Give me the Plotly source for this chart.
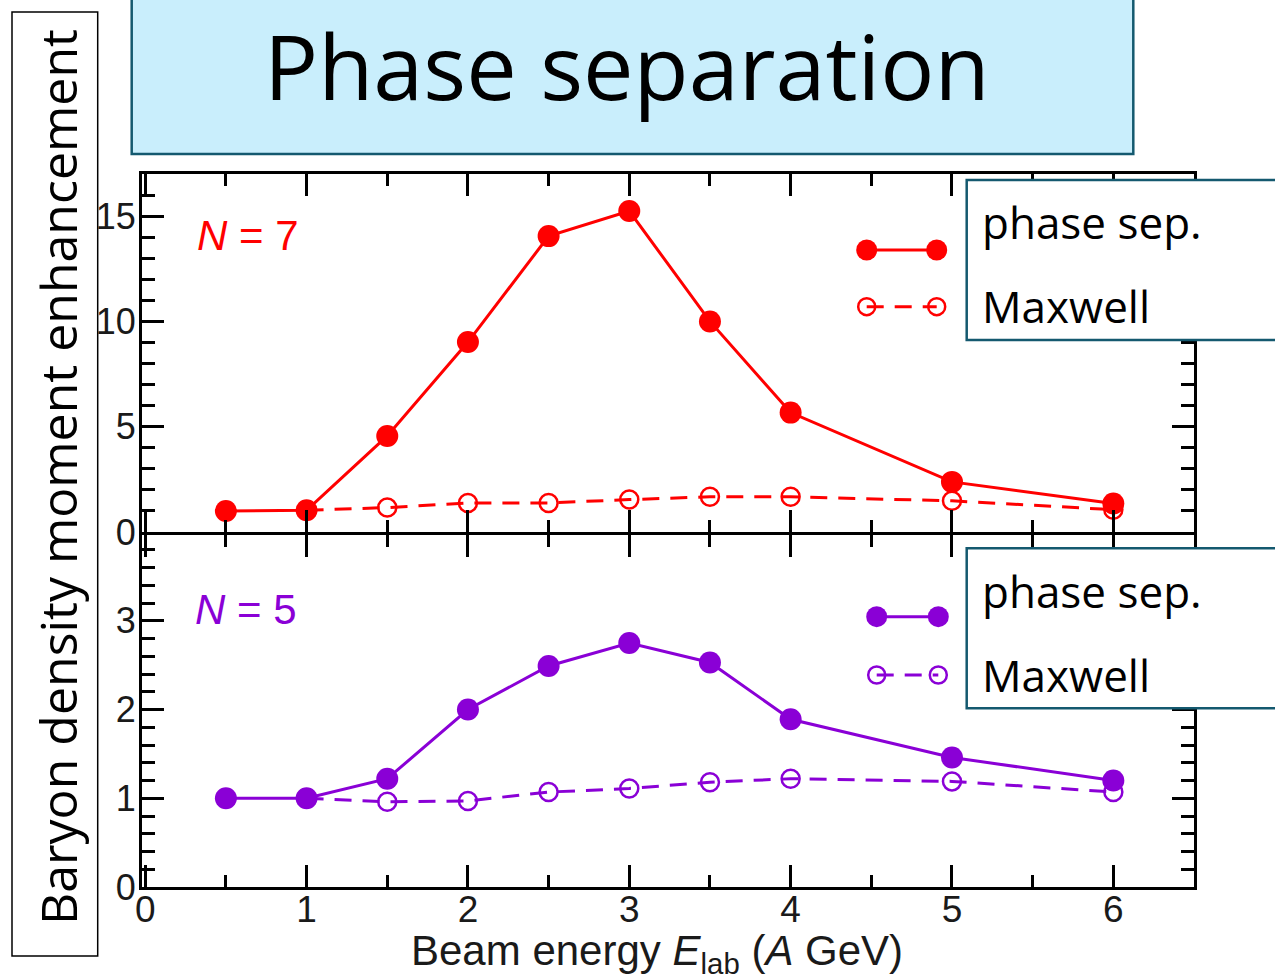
import plotly.graph_objects as go

# ---------------- data ----------------
energy_ps = [0.5, 1, 1.5, 2, 2.5, 3, 3.5, 4, 5, 6]
energy_mx = [1, 1.5, 2, 2.5, 3, 3.5, 4, 5, 6]

n7_phase_sep = [1.0, 1.03, 4.56, 9.02, 14.05, 15.24, 10.0, 5.67, 2.38, 1.35]
n7_maxwell = [1.03, 1.16, 1.38, 1.38, 1.54, 1.67, 1.67, 1.48, 1.06]

n5_phase_sep = [1.0, 1.0, 1.22, 2.0, 2.49, 2.75, 2.53, 1.89, 1.46, 1.2]
n5_maxwell = [1.0, 0.96, 0.97, 1.07, 1.11, 1.18, 1.22, 1.19, 1.07]

x_ticks = [0, 1, 2, 3, 4, 5, 6]
top_y_ticks = [0, 5, 10, 15]
bot_y_ticks = [0, 1, 2, 3]

series_names = ["phase sep.", "Maxwell"]
panel_labels = ["<i>N</i> = 7", "<i>N</i> = 5"]
title_text = "Phase separation"
y_title = "Baryon density moment enhancement"
x_title = "Beam energy <i>E</i><sub>lab</sub> (<i>A</i> GeV)"

# ---------------- style ----------------
W, H = 1275, 980
RED = "#ff0000"
PURPLE = "#8a00d6"
BOX_EDGE = "#14596f"
TITLE_FILL = "#c9eefc"
TICK_FONT = "Liberation Sans, Arial, sans-serif"
TEXT_FONT = "Open Sans, DejaVu Sans, sans-serif"

def px(x):
    return x / W

def py(y):
    return 1 - y / H

# pixel geometry of the two panels
TOP_PX, MID_PX, BOT_PX = 174, 532, 887
LINE_W = 3
BOT_SCALE = (BOT_PX - MID_PX) / 4.0          # px per unit in lower panel
BOT_TOP_PX = MID_PX + LINE_W                   # lower panel starts below the shared spine

X_DOMAIN = [px(142), px(1194)]
TOP_DOMAIN = [py(MID_PX), py(TOP_PX)]
BOT_DOMAIN = [py(BOT_PX), py(BOT_TOP_PX)]
BOT_RANGE_TOP = (BOT_PX - BOT_TOP_PX) / BOT_SCALE

fig = go.Figure()

def add_panel(xa, ya, color, ps, mx):
    fig.add_trace(go.Scatter(
        x=energy_mx, y=mx, xaxis=xa, yaxis=ya, mode="lines+markers",
        line=dict(color=color, width=3, dash="17px,11px"),
        marker=dict(symbol="circle-open", size=18, color=color, line=dict(width=2.5, color=color)),
        showlegend=False, name=series_names[1]))
    fig.add_trace(go.Scatter(
        x=energy_ps, y=ps, xaxis=xa, yaxis=ya, mode="lines+markers",
        line=dict(color=color, width=3),
        marker=dict(symbol="circle", size=22, color=color),
        showlegend=False, name=series_names[0]))

add_panel("x", "y", RED, n7_phase_sep, n7_maxwell)
add_panel("x2", "y2", PURPLE, n5_phase_sep, n5_maxwell)

# legend key glyphs on a pixel-space overlay axis
KEYS = [
    (RED, 866.7, 936.7, 250, 306.7),
    (PURPLE, 876.7, 938.3, 616.7, 675),
]
for color, xa_, xb_, y_ps, y_mx in KEYS:
    fig.add_trace(go.Scatter(
        x=[xa_, xb_], y=[y_ps, y_ps], xaxis="x3", yaxis="y3", mode="lines+markers",
        line=dict(color=color, width=3), marker=dict(symbol="circle", size=21, color=color),
        showlegend=False, hoverinfo="skip"))
    fig.add_trace(go.Scatter(
        x=[xa_, xb_], y=[y_mx, y_mx], xaxis="x3", yaxis="y3", mode="lines+markers",
        line=dict(color=color, width=3, dash="17px,11px"),
        marker=dict(symbol="circle-open", size=17, color=color, line=dict(width=2.5, color=color)),
        showlegend=False, hoverinfo="skip"))

axis_common = dict(showline=True, linewidth=LINE_W, linecolor="black", mirror="ticks",
                   ticks="inside", tickwidth=2.5, tickcolor="black", ticklen=22,
                   showgrid=False, zeroline=False, automargin=False,
                   tickfont=dict(family=TICK_FONT, size=36, color="#1a1a1a"))

fig.update_layout(
    width=W, height=H, margin=dict(l=0, r=0, t=0, b=0, pad=0, autoexpand=False),
    paper_bgcolor="white", plot_bgcolor="rgba(0,0,0,0)",
    xaxis=dict(domain=X_DOMAIN, anchor="y", range=[-0.02, 6.5], tickvals=x_ticks,
               showticklabels=False,
               minor=dict(tickmode="linear", tick0=0, dtick=0.5, ticks="inside", ticklen=12,
                          tickwidth=2.5, tickcolor="black"),
               **axis_common),
    yaxis=dict(domain=TOP_DOMAIN, anchor="x", range=[0, 17], tickvals=top_y_ticks,
               minor=dict(tickmode="linear", tick0=0, dtick=1, ticks="inside", ticklen=13,
                          tickwidth=2.5, tickcolor="black"),
               ticklabelstandoff=-4,
               **axis_common),
    xaxis2=dict(domain=X_DOMAIN, anchor="y2", range=[-0.02, 6.5], tickvals=x_ticks,
                minor=dict(tickmode="linear", tick0=0, dtick=0.5, ticks="inside", ticklen=12,
                           tickwidth=2.5, tickcolor="black"),
                ticklabelstandoff=-12,
                **{**axis_common, "tickfont": dict(family=TICK_FONT, size=37, color="#1a1a1a")}),
    yaxis2=dict(domain=BOT_DOMAIN, anchor="x2", range=[0, BOT_RANGE_TOP], tickvals=bot_y_ticks,
                minor=dict(tickmode="linear", tick0=0, dtick=0.2, ticks="inside", ticklen=13,
                           tickwidth=2.5, tickcolor="black"),
                ticklabelstandoff=-4,
                **axis_common),
    xaxis3=dict(domain=[0, 1], anchor="y3", range=[0, W], visible=False, fixedrange=True,
                automargin=False),
    yaxis3=dict(domain=[0, 1], anchor="x3", range=[H, 0], visible=False, fixedrange=True,
                automargin=False),
)

shapes = [
    # title box
    dict(type="rect", xref="paper", yref="paper", x0=px(131.7), x1=px(1133.3), y0=py(154), y1=py(-5),
         fillcolor=TITLE_FILL, line=dict(color=BOX_EDGE, width=2.5), layer="above"),
    # y-label box
    dict(type="rect", xref="paper", yref="paper", x0=px(12), x1=px(97.7), y0=py(956), y1=py(12),
         fillcolor="white", line=dict(color="black", width=1.5), layer="above"),
    # legend boxes
    dict(type="rect", xref="paper", yref="paper", x0=px(966.7), x1=px(1290), y0=py(340), y1=py(180),
         fillcolor="white", line=dict(color=BOX_EDGE, width=2.5), layer="above"),
    dict(type="rect", xref="paper", yref="paper", x0=px(966.7), x1=px(1290), y0=py(708.3), y1=py(548.3),
         fillcolor="white", line=dict(color=BOX_EDGE, width=2.5), layer="above"),
]
fig.update_layout(shapes=shapes)

ann = []
def add_text(text, x, y, size, family, color="black", xanchor="center", angle=0):
    ann.append(dict(text=text, x=px(x), y=py(y), xref="paper", yref="paper", showarrow=False,
                    xanchor=xanchor, yanchor="middle", textangle=angle,
                    font=dict(family=family, size=size, color=color)))

add_text(title_text, 626.5, 65, 90, TEXT_FONT)
add_text(y_title, 57.5, 477.5, 50, TEXT_FONT, angle=-90)
add_text(series_names[0], 980, 222, 44, TEXT_FONT, xanchor="left")
add_text(series_names[1], 980, 306, 44, TEXT_FONT, xanchor="left")
add_text(series_names[0], 980, 591, 44, TEXT_FONT, xanchor="left")
add_text(series_names[1], 980, 675, 44, TEXT_FONT, xanchor="left")
add_text(panel_labels[0], 248, 235, 42, TICK_FONT, color=RED)
add_text(panel_labels[1], 246, 609, 42, TICK_FONT, color=PURPLE)
add_text(x_title, 657, 953, 42, TICK_FONT, color="#1a1a1a")
fig.update_layout(annotations=ann)

fig.write_html("out.html")
